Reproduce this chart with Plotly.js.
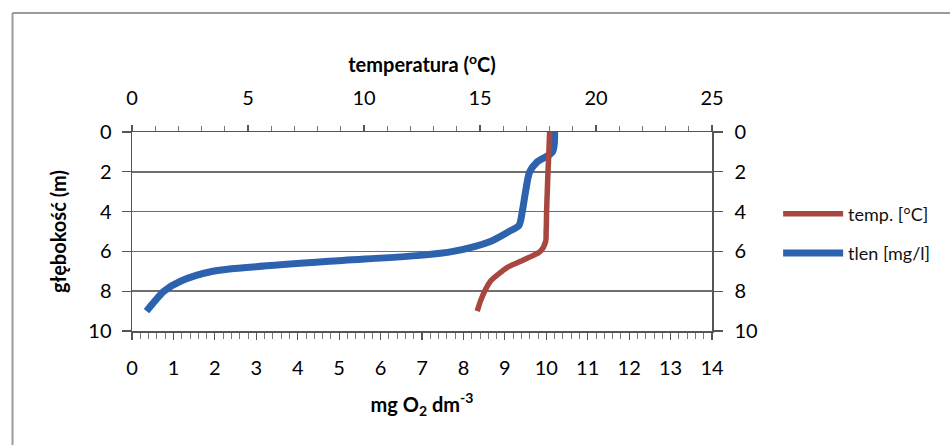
<!DOCTYPE html>
<html>
<head>
<meta charset="utf-8">
<script src="https://cdn.plot.ly/plotly-3.0.1.min.js"></script>
<style>
html,body{margin:0;padding:0;background:#fff;}
#chart{width:950px;height:445px;}
</style>
</head>
<body>
<div id="chart"></div>
<script>
// depth (m) of each measurement
const depth = [0, 1, 1.5, 2, 3, 4, 4.7, 5, 5.5, 6, 6.2, 6.5, 6.8, 7, 7.5, 8, 8.5, 9];
// temperature (°C)
const temperature = [18.0, 17.97, 17.95, 17.93, 17.9, 17.87, 17.86, 17.85, 17.83, 17.6, 17.3, 16.75, 16.18, 15.95, 15.45, 15.2, 15.02, 14.88];
// dissolved oxygen (mg/l)
const oxygen = [10.2, 10.15, 9.78, 9.6, 9.5, 9.42, 9.34, 9.1, 8.65, 7.75, 6.96, 4.75, 2.85, 1.95, 1.17, 0.77, 0.55, 0.35];

const seriesNames = ['temp. [°C]', 'tlen [mg/l]'];
const depthTicks = [0, 2, 4, 6, 8, 10];

const FONT = 'Lato, "Open Sans", sans-serif';
const AXC = '#555555';
const TXT = '#000000';

const traces = [
  {
    x: oxygen, y: depth, xaxis: 'x', yaxis: 'y',
    type: 'scatter', mode: 'lines', name: seriesNames[1], legendgroup: 'b', legendrank: 2,
    line: {color: '#2C62AE', width: 7, shape: 'spline', smoothing: 0.8}
  },
  {
    x: temperature, y: depth, xaxis: 'x2', yaxis: 'y2',
    type: 'scatter', mode: 'lines', name: seriesNames[0], legendgroup: 'a', legendrank: 1,
    line: {color: '#A8473F', width: 5.5, shape: 'spline', smoothing: 0.8}
  }
];

const layout = {
  width: 950, height: 445,
  margin: {l: 131.5, r: 238.3, t: 132.3, b: 114, pad: 0},
  paper_bgcolor: '#ffffff', plot_bgcolor: '#ffffff',
  font: {family: FONT, size: 20, color: TXT},
  showlegend: true,
  legend: {
    x: 1.114, y: 0.49, xanchor: 'left', yanchor: 'middle',
    font: {family: FONT, size: 18, color: '#111'},
    itemwidth: 60, tracegroupgap: 13, bgcolor: 'rgba(0,0,0,0)', traceorder: 'grouped'
  },
  xaxis: {
    range: [0, 14], dtick: 1, tick0: 0, side: 'bottom', anchor: 'y',
    showgrid: false, zeroline: false, showline: true, linecolor: AXC, linewidth: 1.5,
    ticks: 'outside', ticklen: 7, tickcolor: AXC, tickwidth: 1.2,
    minor: {dtick: 0.2, ticks: 'outside', ticklen: 6, tickcolor: '#777', tickwidth: 1, showgrid: false},
    ticklabelstandoff: 11,
    tickfont: {family: FONT, size: 20, color: TXT},
    title: {text: '<b>mg O<sub>2</sub> dm<sup>-3</sup></b>', font: {family: FONT, size: 20, color: TXT}, standoff: 20}
  },
  xaxis2: {
    range: [0, 25], dtick: 5, tick0: 0, side: 'top', overlaying: 'x', anchor: 'y',
    showgrid: false, zeroline: false, showline: true, linecolor: AXC, linewidth: 1.5,
    ticks: 'outside', ticklen: 6, tickcolor: AXC, tickwidth: 1.2,
    minor: {dtick: 1, ticks: 'outside', ticklen: 5, tickcolor: '#777', tickwidth: 1, showgrid: false},
    ticklabelstandoff: 12,
    tickfont: {family: FONT, size: 20, color: TXT},
    title: {text: '<b>temperatura (<sup>o</sup>C)</b>', font: {family: FONT, size: 20, color: TXT}, standoff: 6}
  },
  yaxis: {
    range: [10, 0], tickvals: depthTicks, side: 'left', anchor: 'x',
    showgrid: true, gridcolor: '#6f6f6f', gridwidth: 1.5, zeroline: false,
    showline: true, linecolor: AXC, linewidth: 1.5,
    ticks: 'outside', ticklen: 9, tickcolor: AXC, tickwidth: 1.2,
    ticklabelstandoff: 6,
    tickfont: {family: FONT, size: 20, color: TXT},
    title: {text: '<b>głębokość (m)</b>', font: {family: FONT, size: 20, color: TXT}, standoff: 16}
  },
  yaxis2: {
    range: [10, 0], tickvals: depthTicks, side: 'right', overlaying: 'y', anchor: 'x',
    showgrid: false, zeroline: false, showline: true, linecolor: AXC, linewidth: 1.5,
    ticks: 'outside', ticklen: 9, tickcolor: AXC, tickwidth: 1.2,
    ticklabelstandoff: 8,
    tickfont: {family: FONT, size: 20, color: TXT}
  },
  shapes: [
    {type: 'line', xref: 'paper', yref: 'paper', x0: -0.206, x1: 1.42, y0: 1.598, y1: 1.598,
     line: {color: '#9a9a9a', width: 2}},
    {type: 'line', xref: 'paper', yref: 'paper', x0: -0.206, x1: -0.206, y0: 1.598, y1: -0.6,
     line: {color: '#9a9a9a', width: 2}}
  ]
};

Plotly.newPlot('chart', traces, layout, {displayModeBar: false, staticPlot: true});
</script>
</body>
</html>
